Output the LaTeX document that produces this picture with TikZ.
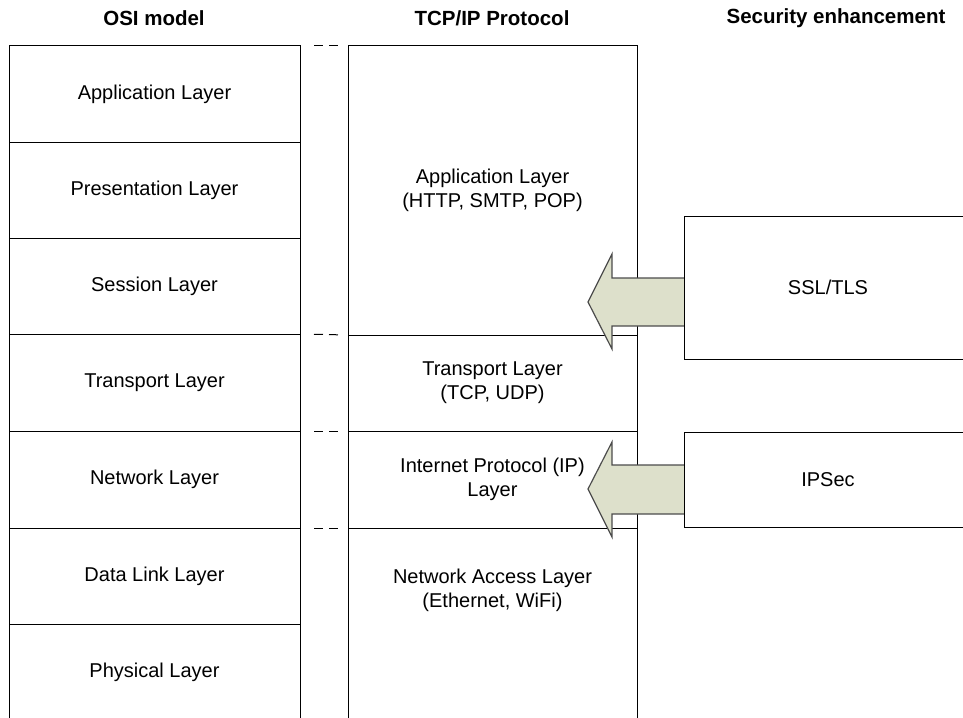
\documentclass[tikz,border=0pt]{standalone}
\usepackage{fontspec}
\setmainfont{Liberation Sans}
\begin{document}
\begin{tikzpicture}[x=1pt,y=-1pt,
  every node/.style={inner sep=0pt, outer sep=0pt},
  txt/.style={font=\fontsize{20}{24}\selectfont, align=center},
  head/.style={font=\fontsize{20.5}{23}\selectfont\bfseries},
  layer/.style={draw, line width=1pt, anchor=north west, txt},
  link/.style={line width=1pt, dash pattern=on 0pt off 14pt on 9pt off 6pt on 9pt off 20pt},
  blockarrow/.style={draw=black!70, line width=1.2pt, fill=arrowfill, line join=miter}
]
\definecolor{arrowfill}{HTML}{DDE0CB}
\useasboundingbox (0,0) rectangle (963,717);
\clip (0,0) rectangle (963,717);

% column headings
\node[head] (hosi) at (154,18) {OSI model};
\node[head] (htcp) at (492,18) {TCP/IP Protocol};
\node[head] (hsec) at (836,18) {Security enhancement};

% OSI stack
\node[layer, minimum width=291, minimum height=96] (osi7) at (9,46)  {Application Layer};
\node[layer, minimum width=291, minimum height=96] (osi6) at (9,142) {Presentation Layer};
\node[layer, minimum width=291, minimum height=96] (osi5) at (9,238) {Session Layer};
\node[layer, minimum width=291, minimum height=97] (osi4) at (9,334) {Transport Layer};
\node[layer, minimum width=291, minimum height=97] (osi3) at (9,431) {Network Layer};
\node[layer, minimum width=291, minimum height=96] (osi2) at (9,528) {Data Link Layer};
\node[layer, minimum width=291, minimum height=96] (osi1) at (9,624) {Physical Layer};

% TCP/IP stack
\node[layer, minimum width=289, minimum height=289] (tcp4) at (348,46)
  {Application Layer\\(HTTP, SMTP, POP)};
\node[layer, minimum width=289, minimum height=96] (tcp3) at (348,335)
  {Transport Layer\\(TCP, UDP)};
\node[layer, minimum width=289, minimum height=97] (tcp2) at (348,431)
  {Internet Protocol (IP)\\Layer};
\node[layer, minimum width=289, minimum height=200] (tcp1) at (348,528) {};
\node[txt] (tcp1txt) at (492.5,590) {Network Access Layer\\(Ethernet, WiFi)};

% correspondence between the two stacks
\draw[link] (osi7.north east) -- (tcp4.north west);
\draw[link] (osi5.south east) -- (tcp4.south west);
\draw[link] (osi4.south east) -- (tcp3.south west);
\draw[link] (osi3.south east) -- (tcp2.south west);

% block arrows from the security mechanisms
\draw[blockarrow] (684,278) -- (612,278) -- (612,254) -- (588,302)
  -- (612,349) -- (612,326) -- (684,326);
\draw[blockarrow] (684,465) -- (612,465) -- (612,442) -- (588,489)
  -- (612,537) -- (612,514) -- (684,514);

% security mechanisms
\node[layer, fill=white, minimum width=288, minimum height=143] (ssl) at (684,216) {SSL/TLS};
\node[layer, fill=white, minimum width=288, minimum height=95] (ipsec) at (684,432) {IPSec};
\end{tikzpicture}
\end{document}
